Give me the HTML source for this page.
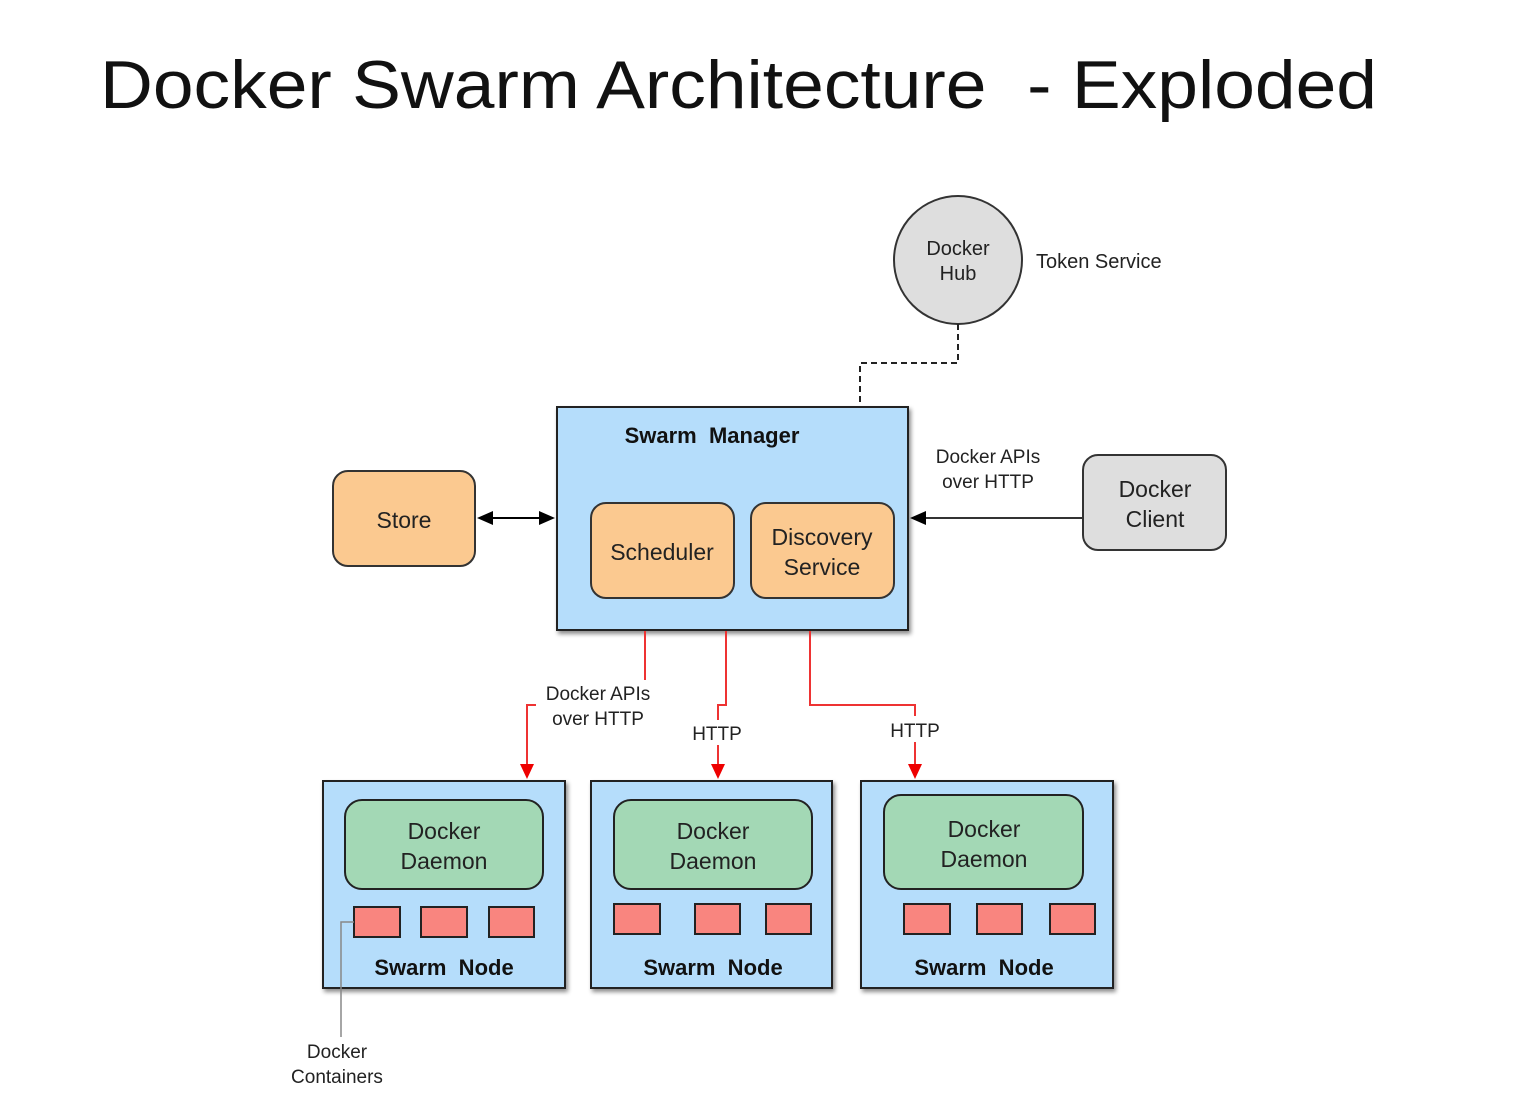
<!DOCTYPE html>
<html><head><meta charset="utf-8"><style>
html,body{margin:0;padding:0;background:#fff;}
svg{display:block;font-family:"Liberation Sans",Arial,sans-serif;}
text{white-space:pre;}
</style></head><body>
<svg width="1515" height="1102" viewBox="0 0 1515 1102" xmlns="http://www.w3.org/2000/svg">
<defs>
<filter id="sh" x="-5%" y="-5%" width="115%" height="115%"><feDropShadow dx="2" dy="3" stdDeviation="2" flood-color="#000" flood-opacity="0.45"/></filter>
</defs>
<text x="100" y="108" font-size="68" fill="#111" textLength="1277" lengthAdjust="spacingAndGlyphs">Docker Swarm Architecture  - Exploded</text>

<circle cx="958" cy="260" r="64" fill="#dedede" stroke="#333" stroke-width="2"/>
<text x="958" y="255" font-size="20" text-anchor="middle" fill="#222">Docker</text>
<text x="958" y="280" font-size="20" text-anchor="middle" fill="#222">Hub</text>
<text x="1036" y="268" font-size="20" fill="#222">Token Service</text>
<path d="M958,324 V363 H860 V407" fill="none" stroke="#222" stroke-width="2" stroke-dasharray="6,4"/>

<rect x="557" y="407" width="351" height="223" fill="#b5ddfb" stroke="#222" stroke-width="2" filter="url(#sh)"/>
<text x="712" y="443" font-size="22" font-weight="bold" text-anchor="middle" fill="#111">Swarm  Manager</text>
<rect x="591" y="503" width="143" height="95" rx="15" fill="#fbc990" stroke="#333" stroke-width="2"/>
<text x="662" y="560" font-size="23" text-anchor="middle" fill="#222">Scheduler</text>
<rect x="751" y="503" width="143" height="95" rx="15" fill="#fbc990" stroke="#333" stroke-width="2"/>
<text x="822" y="545" font-size="23" text-anchor="middle" fill="#222">Discovery</text>
<text x="822" y="575" font-size="23" text-anchor="middle" fill="#222">Service</text>

<rect x="333" y="471" width="142" height="95" rx="15" fill="#fbc990" stroke="#333" stroke-width="2"/>
<text x="404" y="528" font-size="23" text-anchor="middle" fill="#222">Store</text>
<line x1="486" y1="518" x2="545" y2="518" stroke="#000" stroke-width="2"/>
<path d="M477,518 l16,-7 v14z M555,518 l-16,-7 v14z" fill="#000"/>

<rect x="1083" y="455" width="143" height="95" rx="15" fill="#dedede" stroke="#333" stroke-width="2"/>
<text x="1155" y="497" font-size="23" text-anchor="middle" fill="#222">Docker</text>
<text x="1155" y="527" font-size="23" text-anchor="middle" fill="#222">Client</text>
<line x1="1083" y1="518" x2="922" y2="518" stroke="#333" stroke-width="2"/>
<path d="M910,518 l16,-7 v14z" fill="#000"/>
<text x="988" y="463" font-size="19" text-anchor="middle" fill="#222">Docker APIs</text>
<text x="988" y="488" font-size="19" text-anchor="middle" fill="#222">over HTTP</text>

<g fill="none" stroke="#e33" stroke-width="2">
<path d="M645,631 V705 H527 V765"/>
<path d="M726,631 V705 H718 V720 M718,745 V765"/>
<path d="M810,631 V705 H915 V716 M915,742 V765"/>
</g>
<path d="M520,764 h14 l-7,15z M711,764 h14 l-7,15z M908,764 h14 l-7,15z" fill="#e00"/>
<rect x="536" y="680" width="124" height="50" fill="#fff"/>
<text x="598" y="700" font-size="19" text-anchor="middle" fill="#222">Docker APIs</text>
<text x="598" y="725" font-size="19" text-anchor="middle" fill="#222">over HTTP</text>
<text x="717" y="740" font-size="19" text-anchor="middle" fill="#222">HTTP</text>
<text x="915" y="737" font-size="19" text-anchor="middle" fill="#222">HTTP</text>

<g stroke="#222" stroke-width="2">
<rect x="323" y="781" width="242" height="207" fill="#b5ddfb" filter="url(#sh)"/>
<rect x="591" y="781" width="241" height="207" fill="#b5ddfb" filter="url(#sh)"/>
<rect x="861" y="781" width="252" height="207" fill="#b5ddfb" filter="url(#sh)"/>
<rect x="345" y="800" width="198" height="89" rx="17" fill="#a3d8b5"/>
<rect x="614" y="800" width="198" height="89" rx="17" fill="#a3d8b5"/>
<rect x="884" y="795" width="199" height="94" rx="17" fill="#a3d8b5"/>
<g fill="#f9857f">
<rect x="354" y="907" width="46" height="30"/><rect x="421" y="907" width="46" height="30"/><rect x="489" y="907" width="45" height="30"/>
<rect x="614" y="904" width="46" height="30"/><rect x="695" y="904" width="45" height="30"/><rect x="766" y="904" width="45" height="30"/>
<rect x="904" y="904" width="46" height="30"/><rect x="977" y="904" width="45" height="30"/><rect x="1050" y="904" width="45" height="30"/>
</g>
</g>
<g font-size="23" text-anchor="middle" fill="#222">
<text x="444" y="839">Docker</text><text x="444" y="869">Daemon</text>
<text x="713" y="839">Docker</text><text x="713" y="869">Daemon</text>
<text x="984" y="837">Docker</text><text x="984" y="867">Daemon</text>
</g>
<g font-size="22" font-weight="bold" text-anchor="middle" fill="#111">
<text x="444" y="975">Swarm  Node</text>
<text x="713" y="975">Swarm  Node</text>
<text x="984" y="975">Swarm  Node</text>
</g>
<path d="M354,922 H341 V1037" fill="none" stroke="#888" stroke-width="1.5"/>
<text x="337" y="1058" font-size="19" text-anchor="middle" fill="#222">Docker</text>
<text x="337" y="1083" font-size="19" text-anchor="middle" fill="#222">Containers</text>
</svg>
</body></html>
